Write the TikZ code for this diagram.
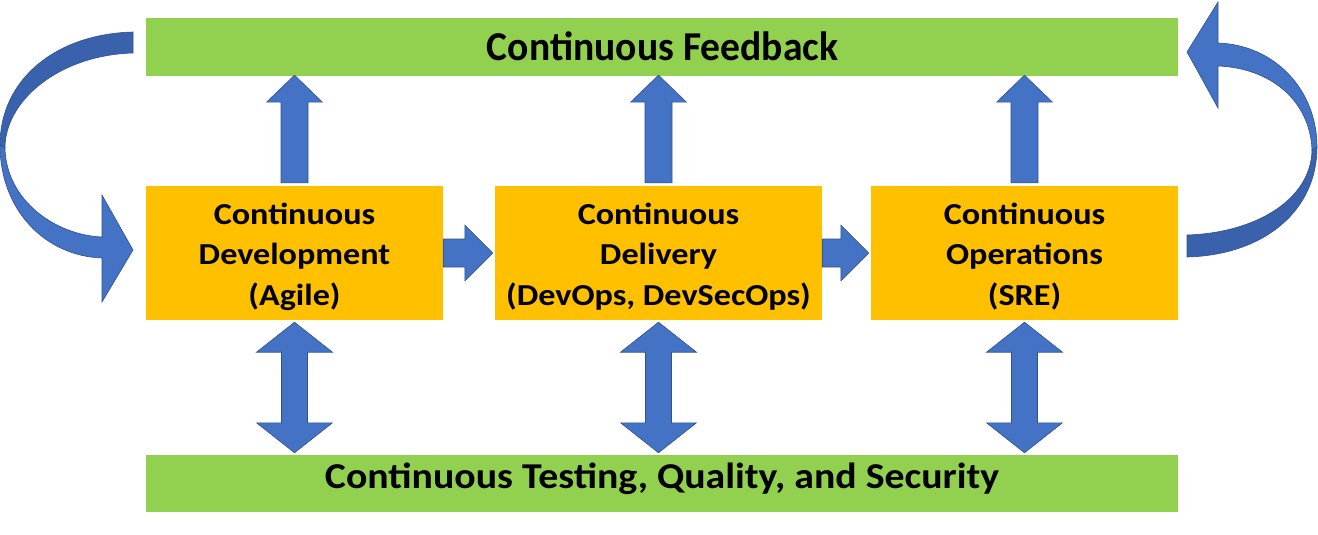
\documentclass[tikz,border=0pt]{standalone}
\usepackage{fontspec}
\setmainfont{Carlito}
\usetikzlibrary{calc}
\definecolor{fbgreen}{HTML}{92D050}
\definecolor{boxorange}{HTML}{FFC000}
\definecolor{arrblue}{HTML}{4472C4}
\definecolor{arrdark}{HTML}{3A62AC}
\definecolor{arredge}{HTML}{2F528F}
\newcommand\sx[1]{\scalebox{1.12}[1]{#1}}
\begin{document}
\begin{tikzpicture}[x=1pt,y=-1pt,
 bar/.style={fill=fbgreen, draw=none, inner sep=0, minimum width=1032pt, minimum height=58pt},
 stage/.style={fill=boxorange, draw=none, inner sep=0, minimum height=134pt},
 blk/.style={fill=arrblue, draw=arredge, line width=0.6pt, line join=miter},
 blkdark/.style={fill=arrdark, draw=arredge, line width=0.6pt},
 ttl/.style={font=\bfseries\fontsize{41}{49}\selectfont, anchor=base, inner sep=0},
 lbl/.style={font=\bfseries\fontsize{30.5}{40.5}\selectfont, align=center, anchor=base, inner sep=0}]
\useasboundingbox (0,0) rectangle (1318,535);

% bars and stages
\node[bar] (fb) at (662,47) {};
\node[bar, minimum height=57pt] (qt) at (662,483.5) {};
\node[stage, minimum width=297pt] (b1) at (294.5,253) {};
\node[stage, minimum width=327pt] (b2) at (658.5,253) {};
\node[stage, minimum width=307pt] (b3) at (1024.5,253) {};

% texts
\node[ttl] (fbt) at (662.5,61) {\resizebox{351pt}{\height}{Continuous Feedback}};
\node[ttl, font=\bfseries\fontsize{36.4}{44}\selectfont] (qtt) at (662,488) {\resizebox{674pt}{\height}{Continuous Testing, Quality, and Security}};
\node[lbl] (b1t) at (294.5,305) {\sx{Continuous}\\\sx{Development}\\\sx{(Agile)}};
\node[lbl] (b2t) at (658.5,305) {\sx{Continuous}\\\sx{Delivery}\\\sx{(DevOps, DevSecOps)}};
\node[lbl] (b3t) at (1024.5,305) {\sx{Continuous}\\\sx{Operations}\\\sx{(SRE)}};

% up arrows to feedback
\foreach \b in {b1,b2,b3}{
  \path[blk] let \p1=($(\b.north)+(0,-3)$), \p2=($(\b.north |- fb.south)+(0,-1)$) in
    (\x1-13.5pt,\y1) -- (\x1-13.5pt,\y2-27pt) -- (\x1-28pt,\y2-27pt) -- (\x1,\y2)
    -- (\x1+28pt,\y2-27pt) -- (\x1+13.5pt,\y2-27pt) -- (\x1+13.5pt,\y1) -- cycle;
}

% double arrows to testing
\foreach \b in {b1,b2,b3}{
  \path[blk] let \p1=($(\b.south)+(0,2)$), \p2=($(\b.south |- qt.north)+(0,-2)$) in
    (\x1,\y1) -- (\x1+38pt,\y1-30pt) -- (\x1+13pt,\y1-30pt) -- (\x1+13pt,\y2+30pt)
    -- (\x1+38pt,\y2+30pt) -- (\x1,\y2) -- (\x1-38pt,\y2+30pt) -- (\x1-13pt,\y2+30pt)
    -- (\x1-13pt,\y1-30pt) -- (\x1-38pt,\y1-30pt) -- cycle;
}

% right arrows between stages
\path[blk] let \p1=(b1.east), \p2=($(b2.west)+(-2,0)$) in
  (\x1,\y1+14pt) -- (\x2-28pt,\y1+14pt) -- (\x2-28pt,\y1+28pt) -- (\x2,\y1)
  -- (\x2-28pt,\y1-28pt) -- (\x2-28pt,\y1-14pt) -- (\x1,\y1-14pt) -- cycle;
\path[blk] let \p1=(b2.east), \p2=($(b3.west)+(-2,0)$) in
  (\x1,\y1+14pt) -- (\x2-28pt,\y1+14pt) -- (\x2-28pt,\y1+28pt) -- (\x2,\y1)
  -- (\x2-28pt,\y1-28pt) -- (\x2-28pt,\y1-14pt) -- (\x1,\y1-14pt) -- cycle;

% left curved arrow (feedback -> development)
\path[blkdark] (133,32) .. controls (55,34) and (0,80) .. (0,145) -- (5,148)
  .. controls (5,100) and (60,55) .. (133,53) -- cycle;
\path[blk] (0,145) .. controls (0,210) and (45,256) .. (102,258) -- (102,302)
  -- (133,250) -- (102,195) -- (102,237) .. controls (55,235) and (6,200) .. (5,148) -- cycle;

% right curved arrow (operations -> feedback)
\path[blkdark] (1317,147) .. controls (1317,210) and (1265,255) .. (1187,257) -- (1187,235)
  .. controls (1255,233) and (1311,200) .. (1312,150) -- cycle;
\path[blk] (1317,147) .. controls (1317,90) and (1275,45) .. (1218,43) -- (1218,2)
  -- (1187,52) -- (1218,108) -- (1218,66) .. controls (1270,68) and (1310,100) .. (1312,150) -- cycle;
\end{tikzpicture}
\end{document}
